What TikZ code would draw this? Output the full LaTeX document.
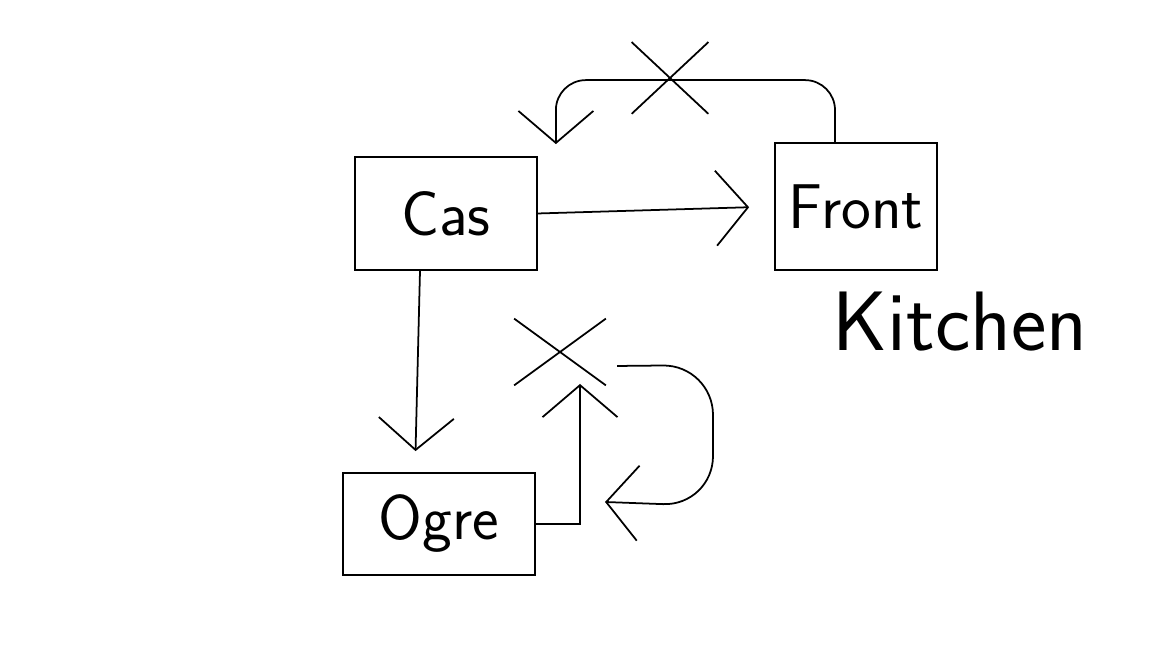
\documentclass[tikz,border=0pt]{standalone}
\usetikzlibrary{arrows.meta,shapes.misc}
\newcommand{\scrawl}{\sffamily\fontsize{18}{20}\selectfont}
\tikzset{
  box/.style={draw, line width=0.5pt, inner sep=0pt, font=\scrawl},
  arr/.style={-{Straight Barb[length=3.2mm,width=7.5mm]}, line width=0.5pt},
  nope/.style={draw, cross out, line width=0.5pt, inner sep=0pt}
}
\begin{document}
\begin{tikzpicture}

\useasboundingbox (0,0) rectangle (11.52,6.48);

\node [box, minimum width=1.82cm, minimum height=1.13cm] (cas) at (4.46,4.345) {Cas};
\node [box, minimum width=1.62cm, minimum height=1.27cm] (front) at (8.56,4.415) {Front};
\node [font=\sffamily\fontsize{24}{26}\selectfont] (kitchen) at (9.6,3.26) {Kitchen};
\node [box, minimum width=1.92cm, minimum height=1.02cm] (ogre) at (4.39,1.24) {Ogre};

\draw [arr, shorten >=2.5mm] (cas.east) -- (front.west);
\draw [arr, shorten >=2.1mm] ([xshift=-2.6mm]cas.south) -- ([xshift=-2.4mm]ogre.north);

\draw [arr, rounded corners=3mm] ([xshift=-2.1mm]front.north) -- ++(0,0.62) -| ([xshift=1.8mm,yshift=1.2mm]cas.north east);
\node [nope, minimum width=7.5mm, minimum height=7mm] (x1) at (6.7,5.7) {};

\coordinate (up) at (5.8,2.64);
\draw [arr] (ogre.east) -| (up);
\node [nope, minimum width=9mm, minimum height=6.5mm] (x2) at (5.6,2.96) {};

\coordinate (ret) at (6.17,2.82);
\coordinate (back) at (6.05,1.46);
\draw [arr, rounded corners=5mm] (ret) -- (7.13,2.83) -- (7.13,1.42) -- (back);

\end{tikzpicture}
\end{document}
